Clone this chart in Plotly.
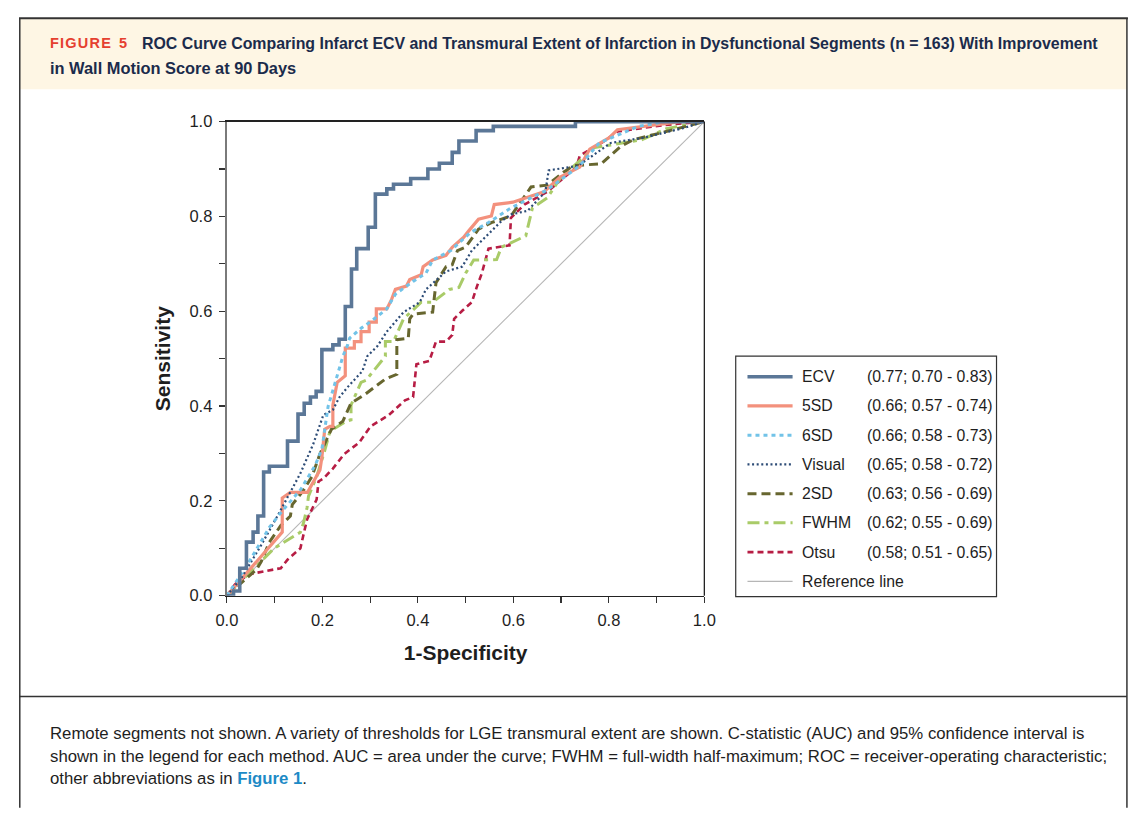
import plotly.graph_objects as go

# The page body keeps the browser's 8px margin, so the figure is drawn 8px in
# from the window edge and is sized so that figure + margins == 1142 x 817.
OFF = 8
W, H = 1142 - 2 * OFF, 817 - 2 * OFF

# ---------------- data ----------------
ecv_fpr = [0, 0.014, 0.027, 0.041, 0.055, 0.065, 0.077, 0.089, 0.127, 0.149, 0.162, 0.175, 0.187,
           0.199, 0.222, 0.235, 0.248, 0.261, 0.272, 0.296, 0.311, 0.335, 0.349, 0.385, 0.421,
           0.445, 0.472, 0.486, 0.522, 0.558, 0.730, 1.0]
ecv_tpr = [0, 0.010, 0.058, 0.113, 0.134, 0.168, 0.261, 0.273, 0.326, 0.383, 0.406, 0.419, 0.431,
           0.519, 0.529, 0.541, 0.610, 0.689, 0.732, 0.777, 0.847, 0.858, 0.868, 0.880, 0.900,
           0.912, 0.935, 0.959, 0.981, 0.990, 1.0, 1.0]

sd5_fpr = [0, 0.03, 0.07, 0.105, 0.116, 0.116, 0.133, 0.169, 0.178, 0.195, 0.199, 0.205, 0.216,
           0.222, 0.222, 0.231, 0.236, 0.248, 0.248, 0.267, 0.267, 0.281, 0.281, 0.298, 0.298,
           0.313, 0.313, 0.335, 0.345, 0.353, 0.376, 0.383, 0.407, 0.411, 0.431, 0.459, 0.472,
           0.496, 0.507, 0.527, 0.554, 0.560, 0.599, 0.664, 0.698, 0.739, 0.760, 0.801, 0.818,
           0.869, 0.951, 1.0]
sd5_tpr = [0, 0.035, 0.08, 0.12, 0.134, 0.206, 0.218, 0.218, 0.234, 0.265, 0.292, 0.351, 0.357,
           0.357, 0.402, 0.450, 0.454, 0.464, 0.522, 0.522, 0.536, 0.536, 0.557, 0.557, 0.577,
           0.577, 0.605, 0.605, 0.625, 0.646, 0.653, 0.667, 0.677, 0.694, 0.708, 0.718, 0.735,
           0.756, 0.770, 0.794, 0.801, 0.825, 0.830, 0.852, 0.883, 0.904, 0.942, 0.966, 0.983,
           0.990, 1.0, 1.0]

sd6_fpr = [0, 0.041, 0.089, 0.116, 0.154, 0.185, 0.199, 0.212, 0.222, 0.233, 0.243, 0.253, 0.257,
           0.281, 0.305, 0.335, 0.353, 0.390, 0.417, 0.431, 0.469, 0.510, 0.548, 0.595, 0.671,
           0.739, 0.780, 0.862, 0.917, 1.0]
sd6_tpr = [0, 0.062, 0.144, 0.179, 0.223, 0.275, 0.309, 0.399, 0.433, 0.471, 0.505, 0.529, 0.543,
           0.564, 0.581, 0.605, 0.636, 0.663, 0.680, 0.708, 0.728, 0.766, 0.787, 0.818, 0.856,
           0.907, 0.955, 0.990, 1.0, 1.0]

vis_fpr = [0, 0.031, 0.072, 0.106, 0.154, 0.181, 0.202, 0.222, 0.236, 0.253, 0.284, 0.294, 0.315,
           0.335, 0.370, 0.404, 0.417, 0.459, 0.493, 0.513, 0.551, 0.575, 0.595, 0.630, 0.667,
           0.674, 0.736, 0.804, 0.873, 0.955, 1.0]
vis_tpr = [0, 0.038, 0.107, 0.168, 0.258, 0.320, 0.381, 0.392, 0.419, 0.440, 0.474, 0.505, 0.526,
           0.557, 0.598, 0.619, 0.646, 0.684, 0.694, 0.728, 0.766, 0.790, 0.804, 0.812, 0.852,
           0.897, 0.907, 0.955, 0.966, 0.986, 1.0]

sd2_fpr = [0, 0.062, 0.072, 0.089, 0.113, 0.133, 0.137, 0.161, 0.178, 0.195, 0.219, 0.243, 0.260,
           0.291, 0.332, 0.356, 0.356, 0.380, 0.383, 0.390, 0.431, 0.435, 0.438, 0.459, 0.472,
           0.483, 0.500, 0.527, 0.554, 0.595, 0.637, 0.671, 0.705, 0.726, 0.784, 0.825, 0.852,
           0.920, 1.0]
sd2_tpr = [0, 0.055, 0.072, 0.113, 0.148, 0.168, 0.192, 0.223, 0.251, 0.299, 0.351, 0.368, 0.406,
           0.426, 0.457, 0.467, 0.540, 0.543, 0.584, 0.594, 0.598, 0.632, 0.660, 0.694, 0.698,
           0.728, 0.735, 0.773, 0.787, 0.801, 0.862, 0.866, 0.893, 0.907, 0.911, 0.948, 0.962,
           0.979, 1.0]

fwhm_fpr = [0, 0.058, 0.099, 0.154, 0.161, 0.168, 0.171, 0.188, 0.205, 0.216, 0.250, 0.260, 0.260,
            0.281, 0.291, 0.332, 0.332, 0.349, 0.370, 0.407, 0.431, 0.466, 0.486, 0.500, 0.517,
            0.565, 0.575, 0.626, 0.640, 0.671, 0.698, 0.743, 0.767, 0.800, 0.870, 0.920, 1.0]
fwhm_tpr = [0, 0.058, 0.100, 0.134, 0.155, 0.186, 0.210, 0.251, 0.306, 0.347, 0.368, 0.371, 0.402,
            0.450, 0.454, 0.505, 0.536, 0.536, 0.584, 0.619, 0.619, 0.646, 0.650, 0.680, 0.708,
            0.709, 0.735, 0.759, 0.818, 0.839, 0.880, 0.921, 0.945, 0.950, 0.962, 0.985, 1.0]

otsu_fpr = [0, 0.017, 0.045, 0.113, 0.127, 0.154, 0.161, 0.168, 0.188, 0.192, 0.202, 0.222, 0.246,
            0.277, 0.301, 0.339, 0.373, 0.390, 0.397, 0.424, 0.438, 0.459, 0.472, 0.476, 0.493,
            0.513, 0.524, 0.534, 0.548, 0.592, 0.595, 0.623, 0.671, 0.732, 0.739, 0.791, 0.818,
            0.917, 1.0]
otsu_tpr = [0, 0.024, 0.045, 0.058, 0.076, 0.100, 0.131, 0.161, 0.203, 0.241, 0.247, 0.268, 0.299,
            0.323, 0.357, 0.381, 0.412, 0.419, 0.488, 0.495, 0.536, 0.536, 0.550, 0.584, 0.601,
            0.619, 0.653, 0.680, 0.732, 0.739, 0.797, 0.825, 0.852, 0.904, 0.928, 0.959, 0.979,
            0.993, 1.0]

ref_x = [0, 1]
ref_y = [0, 1]

names = ["ECV", "5SD", "6SD", "Visual", "2SD", "FWHM", "Otsu"]
aucs = ["(0.77; 0.70 - 0.83)", "(0.66; 0.57 - 0.74)", "(0.66; 0.58 - 0.73)",
        "(0.65; 0.58 - 0.72)", "(0.63; 0.56 - 0.69)", "(0.62; 0.55 - 0.69)",
        "(0.58; 0.51 - 0.65)"]
tick_vals = [0, 0.1, 0.2, 0.3, 0.4, 0.5, 0.6, 0.7, 0.8, 0.9, 1.0]
tick_text = ["0.0", "", "0.2", "", "0.4", "", "0.6", "", "0.8", "", "1.0"]

# ---------------- styles ----------------
styles = {
    "ECV":    dict(color="#5B7797", width=3.6, dash="solid"),
    "5SD":    dict(color="#F3917D", width=3.2, dash="solid"),
    "6SD":    dict(color="#72C3E8", width=3.0, dash="4px,4px"),
    "Visual": dict(color="#2C4B76", width=2.2, dash="2px,2.6px"),
    "2SD":    dict(color="#67662F", width=3.0, dash="9px,5px"),
    "FWHM":   dict(color="#A9CB68", width=3.0, dash="12px,5px,4px,5px"),
    "Otsu":   dict(color="#B71D44", width=2.6, dash="6px,4px"),
}
REF_STYLE = dict(color="#B6B6B6", width=1.1)
data = {
    "ECV": (ecv_fpr, ecv_tpr), "5SD": (sd5_fpr, sd5_tpr), "6SD": (sd6_fpr, sd6_tpr),
    "Visual": (vis_fpr, vis_tpr), "2SD": (sd2_fpr, sd2_tpr), "FWHM": (fwhm_fpr, fwhm_tpr),
    "Otsu": (otsu_fpr, otsu_tpr),
}
draw_order = ["Otsu", "FWHM", "2SD", "5SD", "Visual", "6SD", "ECV"]

BASE_FONT = "Liberation Sans, Arial, Helvetica, sans-serif"
TXT = "#1e1e1e"


def PX(x):
    """window pixel -> paper fraction"""
    return (x - OFF) / W


def PY(y):
    return 1 - (y - OFF) / H


fig = go.Figure()
fig.add_trace(go.Scatter(x=ref_x, y=ref_y, mode="lines", line=REF_STYLE,
                         name="Reference line", showlegend=False, hoverinfo="skip"))
for nm in draw_order:
    xs, ys = data[nm]
    st = styles[nm]
    fig.add_trace(go.Scatter(
        x=xs, y=ys, mode="lines", name=nm, showlegend=False,
        line=dict(color=st["color"], width=st["width"], dash=st["dash"],
                  shape="hv" if nm == "ECV" else "linear")))

shapes = []
annotations = []

# frame of the figure panel
shapes.append(dict(type="rect", xref="paper", yref="paper", x0=PX(8.5), x1=PX(1138),
                   y0=PY(82), y1=PY(10), fillcolor="#FEF6E4", line=dict(width=0), layer="below"))
shapes.append(dict(type="line", xref="paper", yref="paper", x0=PX(8), x1=PX(1139),
                   y0=PY(9.2), y1=PY(9.2), line=dict(color="#333333", width=2)))
for xx in (8.8, 1138):
    shapes.append(dict(type="line", xref="paper", yref="paper", x0=PX(xx), x1=PX(xx),
                       y0=PY(9), y1=PY(817), line=dict(color="#333333", width=1.5)))
shapes.append(dict(type="line", xref="paper", yref="paper", x0=PX(8), x1=PX(1138),
                   y0=PY(703), y1=PY(703), line=dict(color="#333333", width=1.5)))
# right border of the plot area
shapes.append(dict(type="line", xref="x domain", yref="y domain", x0=1, x1=1, y0=0, y1=1,
                   line=dict(color="#222222", width=1.3)))

# title
annotations.append(dict(xref="paper", yref="paper", x=PX(38), y=PY(35), xanchor="left",
                        yanchor="middle", showarrow=False,
                        text="<b>F\u200aI\u200aG\u200aU\u200aR\u200aE\u200a\u2009 5</b>",
                        font=dict(family=BASE_FONT, size=14.5, color="#E5402F")))
annotations.append(dict(xref="paper", yref="paper", x=PX(131), y=PY(35), xanchor="left",
                        yanchor="middle", showarrow=False,
                        text="<b>ROC Curve Comparing Infarct ECV and Transmural Extent of Infarction in "
                             "Dysfunctional Segments (n = 163) With Improvement</b>",
                        font=dict(family=BASE_FONT, size=15.9, color="#1B2B4B")))
annotations.append(dict(xref="paper", yref="paper", x=PX(38), y=PY(60), xanchor="left",
                        yanchor="middle", showarrow=False,
                        text="<b>in Wall Motion Score at 90 Days</b>",
                        font=dict(family=BASE_FONT, size=16.4, color="#1B2B4B")))

# caption
cap_lines = [
    "Remote segments not shown. A variety of thresholds for LGE transmural extent are shown. "
    "C-statistic (AUC) and 95% confidence interval is",
    "shown in the legend for each method. AUC = area under the curve; FWHM = full-width "
    "half-maximum; ROC = receiver-operating characteristic;",
    "other abbreviations as in <b><span style='color:#1D8AC6'>Figure 1</span></b>.",
]
for i, t in enumerate(cap_lines):
    annotations.append(dict(xref="paper", yref="paper", x=PX(38), y=PY(741 + 23 * i),
                            xanchor="left", yanchor="middle", showarrow=False, text=t,
                            font=dict(family=BASE_FONT, size=16.75, color=TXT)))

# legend box (drawn by hand so that the AUC column lines up)
LX0, LX1, LY0, LY1 = 739, 1005, 355, 601
shapes.append(dict(type="rect", xref="paper", yref="paper", x0=PX(LX0), x1=PX(LX1),
                   y0=PY(LY1), y1=PY(LY0), line=dict(color="#333333", width=1.2),
                   fillcolor="white"))
row_y = [376 + 29.9 * i for i in range(len(names) + 1)]
LEG_SIZE = 15.8
for i, nm in enumerate(names):
    st = styles[nm]
    shapes.append(dict(type="line", xref="paper", yref="paper", x0=PX(751), x1=PX(797),
                       y0=PY(row_y[i]), y1=PY(row_y[i]),
                       line=dict(color=st["color"], width=st["width"], dash=st["dash"])))
    annotations.append(dict(xref="paper", yref="paper", x=PX(805), y=PY(row_y[i]),
                            xanchor="left", yanchor="middle", showarrow=False, text=nm,
                            font=dict(family=BASE_FONT, size=LEG_SIZE, color=TXT)))
    annotations.append(dict(xref="paper", yref="paper", x=PX(871), y=PY(row_y[i]),
                            xanchor="left", yanchor="middle", showarrow=False, text=aucs[i],
                            font=dict(family=BASE_FONT, size=LEG_SIZE, color=TXT)))
shapes.append(dict(type="line", xref="paper", yref="paper", x0=PX(751), x1=PX(797),
                   y0=PY(row_y[-1]), y1=PY(row_y[-1]), line=REF_STYLE))
annotations.append(dict(xref="paper", yref="paper", x=PX(805), y=PY(row_y[-1]),
                        xanchor="left", yanchor="middle", showarrow=False, text="Reference line",
                        font=dict(family=BASE_FONT, size=LEG_SIZE, color=TXT)))

axis_common = dict(range=[0, 1], tickvals=tick_vals, ticktext=tick_text, ticks="outside",
                   ticklen=6, tickwidth=1.2, tickcolor="#333333", showgrid=False,
                   zeroline=False, fixedrange=True,
                   tickfont=dict(family=BASE_FONT, size=16.5, color=TXT))

fig.update_layout(
    width=W, height=H, margin=dict(l=0, r=0, t=0, b=0),
    paper_bgcolor="white", plot_bgcolor="white", showlegend=False,
    xaxis=dict(domain=[PX(220), PX(707)], showline=True, linecolor="#222222", linewidth=1.5,
               mirror=True, ticklabelstandoff=3,
               title=dict(text="<b>1-Specificity</b>", standoff=17,
                          font=dict(family=BASE_FONT, size=21, color=TXT)),
               **axis_common),
    yaxis=dict(domain=[PY(600), PY(115)], showline=True, linecolor="#7A7A7A", linewidth=2.2,
               ticklabelstandoff=3,
               title=dict(text="<b>Sensitivity</b>", standoff=13,
                          font=dict(family=BASE_FONT, size=21, color=TXT)),
               **axis_common),
    shapes=shapes, annotations=annotations,
)

fig.write_html("out.html", config={"displayModeBar": False, "staticPlot": True})
